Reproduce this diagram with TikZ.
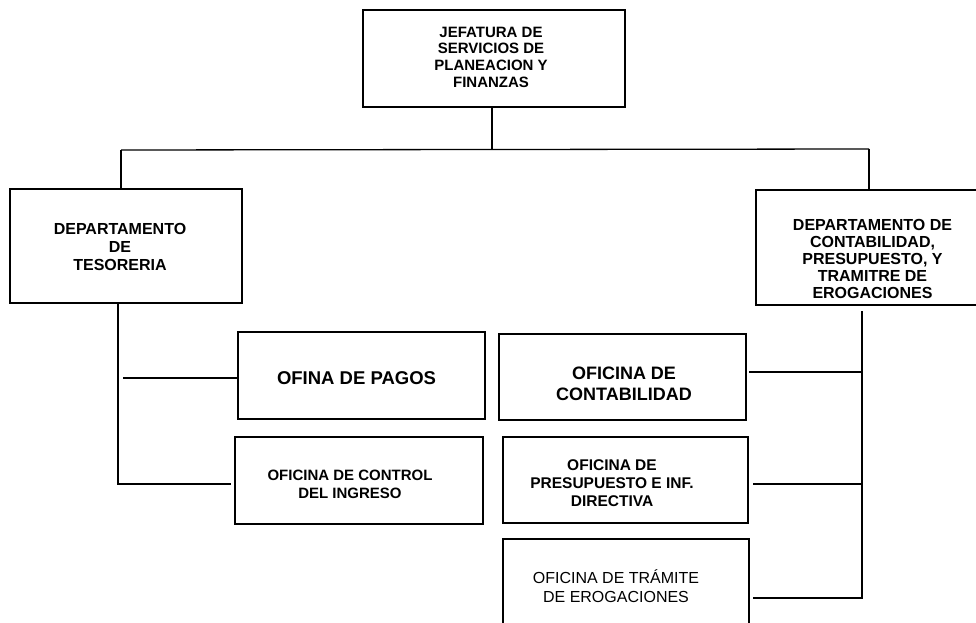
\documentclass[tikz,border=0pt]{standalone}
\usepackage{fontspec}
\setmainfont{Liberation Sans}
\begin{document}
\begin{tikzpicture}[x=1pt,y=-1pt,
  box/.style={draw=black,line width=1.3pt,inner sep=0pt,fill=none},
  lbl/.style={inner sep=0pt,align=center,text=black},
  con/.style={draw=black,line width=1.3pt}]
\useasboundingbox (0,0) rectangle (976,623);
% boxes
\node[box,minimum width=262pt,minimum height=97pt] (jef) at (494,58.5) {};
\node[box,minimum width=232pt,minimum height=114pt] (tes) at (126,246) {};
\node[box,minimum width=234pt,minimum height=115pt] (con) at (873,247.5) {};
\node[box,minimum width=247pt,minimum height=87pt] (pag) at (361.5,375.5) {};
\node[box,minimum width=248pt,minimum height=87pt] (ing) at (359,480.5) {};
\node[box,minimum width=247pt,minimum height=86pt] (cnt) at (622.5,377) {};
\node[box,minimum width=245pt,minimum height=86pt] (pre) at (625.5,480) {};
\node[box,minimum width=246pt,minimum height=91pt] (tra) at (626,584.5) {};
% texts
\node[lbl,font=\fontsize{15}{16.7}\selectfont\bfseries] (tjef) at (491,57) {JEFATURA DE\\SERVICIOS DE\\PLANEACION Y\\FINANZAS};
\node[lbl,font=\fontsize{16}{18}\selectfont\bfseries] (ttes) at (120,247) {DEPARTAMENTO\\DE\\TESORERIA};
\node[lbl,font=\fontsize{16}{17.2}\selectfont\bfseries] (tcon) at (872.5,259) {DEPARTAMENTO DE\\CONTABILIDAD,\\PRESUPUESTO, Y\\TRAMITRE DE\\EROGACIONES};
\node[lbl,font=\fontsize{18.5}{21}\selectfont\bfseries] (tpag) at (356.5,378) {OFINA DE PAGOS};
\node[lbl,font=\fontsize{15}{18}\selectfont\bfseries] (ting) at (350,484) {OFICINA DE CONTROL\\DEL INGRESO};
\node[lbl,font=\fontsize{18}{21.5}\selectfont\bfseries] (tcnt) at (624,384) {OFICINA DE\\CONTABILIDAD};
\node[lbl,font=\fontsize{15.5}{18.2}\selectfont\bfseries] (tpre) at (612,483) {OFICINA DE\\PRESUPUESTO E INF.\\DIRECTIVA};
\node[lbl,font=\fontsize{16}{18.3}\selectfont] (ttra) at (616,586) {OFICINA DE TRÁMITE\\DE EROGACIONES};
% junction coordinates
\coordinate (bus) at (492,150);
\coordinate (busL) at (121,150);
\coordinate (busR) at (869,149);
\coordinate (l1) at (118,378);
\coordinate (l2) at (118,484);
\coordinate (r0) at (862,311);
\coordinate (r1) at (862,372);
\coordinate (r2) at (862,484);
\coordinate (r3) at (862,598);
% connectors
\draw[con] (jef.south -| bus) -- (bus);
\draw[con] (busL) -- (busR);
\draw[con] (busL) -- (busL |- tes.north);
\draw[con] (busR) -- (busR |- con.north);
\draw[con] (l1 |- tes.south) -- (l2) -- (l2 -| 231,0);
\draw[con] (123,378) -- (pag.west |- l1);
\draw[con] (r0) -- (r3) -- (753,598);
\draw[con] (r1) -- (749,372);
\draw[con] (r2) -- (753,484);
\end{tikzpicture}
\end{document}
